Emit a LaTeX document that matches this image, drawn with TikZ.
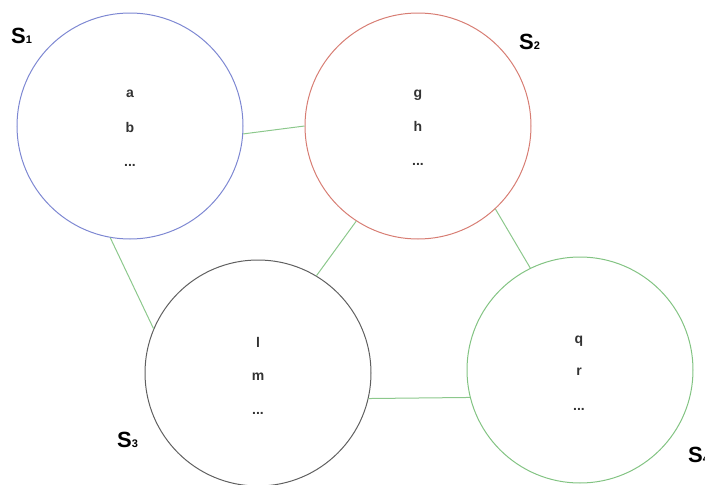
\documentclass[tikz,border=0pt]{standalone}
\usepackage{fontspec}
\setmainfont{Liberation Sans}
\definecolor{cblue}{RGB}{125,135,210}
\definecolor{cred}{RGB}{215,125,115}
\definecolor{cgray}{RGB}{95,95,95}
\definecolor{cgreen}{RGB}{130,195,130}
\definecolor{lgreen}{RGB}{140,200,140}
\begin{document}
\begin{tikzpicture}[x=1pt,y=-1pt,
  setc/.style={circle,draw,line width=1pt,minimum size=226pt,inner sep=0pt},
  item/.style={anchor=base,inner sep=0pt,font=\fontsize{14}{14}\selectfont\bfseries,text=black!80},
  slabel/.style={anchor=base west,inner sep=0pt},
  link/.style={lgreen,line width=1pt}]
\useasboundingbox (0,0) rectangle (705,485);
\node[setc,draw=cblue] (s1) at (130,126) {};
\node[setc,draw=cred] (s2) at (418,126) {};
\node[setc,draw=cgray] (s3) at (258,373) {};
\node[setc,draw=cgreen] (s4) at (580,370) {};
% items
\node[item] (a) at (130,97) {a};
\node[item] (b) at (130,132) {b};
\node[item] (d1) at (130,166) {...};
\node[item] (g) at (418,97) {g};
\node[item] (h) at (418,131) {h};
\node[item] (d2) at (418,165) {...};
\node[item] (l) at (258,347) {l};
\node[item] (m) at (258,380) {m};
\node[item] (d3) at (258,414) {...};
\node[item] (q) at (579,343) {q};
\node[item] (r) at (579,375) {r};
\node[item] (d4) at (579,410) {...};
% labels
\newcommand{\setlab}[1]{\bfseries{\fontsize{22}{22}\selectfont S}{\fontsize{11}{11}\selectfont #1}}
\node[slabel] (L1) at (11,43) {\setlab{1}};
\node[slabel] (L2) at (519,49) {\setlab{2}};
\node[slabel] (L3) at (117,447) {\setlab{3}};
\node[slabel] (L4) at (688,462) {\setlab{4}};
% links
\draw[link] (s1.-4) -- (s2.180);
\draw[link] (s1.-100) -- (s3.157);
\draw[link] (s2.-123) -- (s3.59);
\draw[link] (s2.-47) -- (s4.116);
\draw[link] (s3.-13) -- (s4.-166);
\end{tikzpicture}
\end{document}
